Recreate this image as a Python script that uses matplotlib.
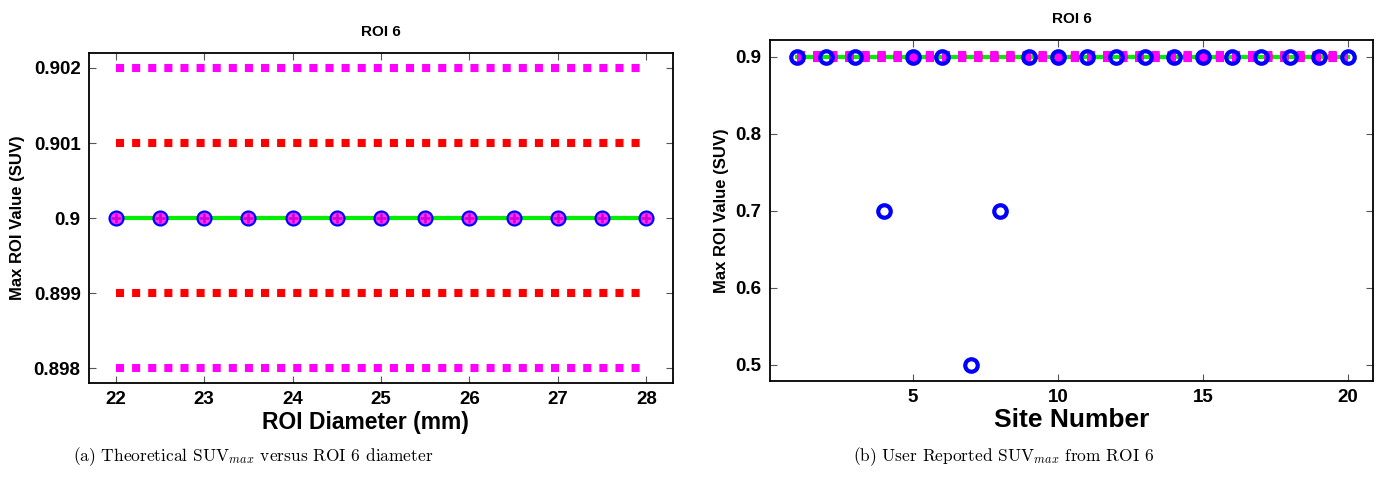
import matplotlib
matplotlib.use("Agg")
import matplotlib.pyplot as plt
import numpy as np

# panel (a): theoretical value vs ROI diameter
diam = [22, 22.5, 23, 23.5, 24, 24.5, 25, 25.5, 26, 26.5, 27, 27.5, 28]
theo = [0.9] * 13
true_val = 0.9
tol_inner = 0.001
tol_outer = 0.002

# panel (b): user reported values per site
sites = list(range(1, 21))
reported = [0.9, 0.9, 0.9, 0.7, 0.9, 0.9, 0.5, 0.7, 0.9, 0.9,
            0.9, 0.9, 0.9, 0.9, 0.9, 0.9, 0.9, 0.9, 0.9, 0.9]

left_yticks = [0.898, 0.899, 0.9, 0.901, 0.902]
left_yticklabels = ['0.898', '0.899', '0.9', '0.901', '0.902']
left_xticks = [22, 23, 24, 25, 26, 27, 28]
right_xticks = [5, 10, 15, 20]
right_yticks = [0.5, 0.6, 0.7, 0.8, 0.9]

plt.rcParams['font.family'] = ['Liberation Sans', 'DejaVu Sans']
plt.rcParams['font.weight'] = 'bold'
plt.rcParams['mathtext.fontset'] = 'cm'

W, H = 1383, 478
fig = plt.figure(figsize=(W / 100, H / 100), dpi=100)

def style_axes(ax):
    for s in ax.spines.values():
        s.set_linewidth(1.3)
    ax.tick_params(direction='in', length=5, width=0.8, color='#555555',
                   top=True, right=True, labelsize=13.5, pad=6)
    for lab in ax.get_xticklabels() + ax.get_yticklabels():
        lab.set_fontweight('bold')

dot = (0, (1, 1))
lw_dot = 5.8

# ---- left panel
ax1 = fig.add_axes([89 / W, 1 - 383 / H, (673 - 89) / W, (383 - 53) / H])
xl = [diam[0], diam[-1]]
ax1.plot(xl, [true_val + tol_outer] * 2, color='magenta', lw=lw_dot, ls=dot)
ax1.plot(xl, [true_val - tol_outer] * 2, color='magenta', lw=lw_dot, ls=dot)
ax1.plot(xl, [true_val + tol_inner] * 2, color='red', lw=lw_dot, ls=dot)
ax1.plot(xl, [true_val - tol_inner] * 2, color='red', lw=lw_dot, ls=dot)
ax1.plot(diam, theo, color='#00ee00', lw=3, marker='o', ms=10,
         mfc='#ff33ff', mec='blue', mew=1.6)
ax1.plot(diam, theo, ls='none', marker='+', ms=7, mec='#d000d0', mew=1.8)
ax1.set_xlim(21.7, 28.3)
ax1.set_ylim(0.8978, 0.9022)
ax1.set_xticks(left_xticks)
ax1.set_yticks(left_yticks)
ax1.set_yticklabels(left_yticklabels)
ax1.set_title('ROI 6', fontsize=11, fontweight='bold', pad=12)
ax1.set_xlabel('ROI Diameter (mm)', fontsize=16.5, fontweight='bold', labelpad=2)
ax1.xaxis.set_label_coords(0.474, -0.085)
ax1.set_ylabel('Max ROI Value (SUV)', fontsize=12, fontweight='bold', labelpad=6)
style_axes(ax1)

# ---- right panel
ax2 = fig.add_axes([770 / W, 1 - 381 / H, (1373 - 770) / W, (381 - 40) / H])
xr = [sites[0], sites[-1]]
ax2.plot(xr, [true_val] * 2, color='#00ee00', lw=3)
ax2.plot(xr, [true_val + tol_inner] * 2, color='red', lw=lw_dot, ls=dot)
ax2.plot(xr, [true_val - tol_inner] * 2, color='red', lw=lw_dot, ls=dot)
ax2.plot(xr, [true_val + tol_outer] * 2, color='magenta', lw=lw_dot, ls=dot)
ax2.plot(xr, [true_val - tol_outer] * 2, color='magenta', lw=lw_dot, ls=dot)
ax2.plot(sites, reported, ls='none', marker='o', ms=9, mfc='none',
         mec='blue', mew=3)
ax2.set_xlim(0.07, 20.86)
ax2.set_ylim(0.479, 0.922)
ax2.set_xticks(right_xticks)
ax2.set_yticks(right_yticks)
ax2.set_title('ROI 6', fontsize=11, fontweight='bold', pad=12)
ax2.set_xlabel('Site Number', fontsize=19, fontweight='bold', labelpad=2)
ax2.xaxis.set_label_coords(0.5, -0.08)
ax2.set_ylabel('Max ROI Value (SUV)', fontsize=12, fontweight='bold', labelpad=5)
style_axes(ax2)

# captions
fig.text(253 / W, 1 - 457 / H, r'(a) Theoretical SUV$_{max}$ versus ROI 6 diameter',
         ha='center', va='center', fontsize=12.5, family='cmr10',
         fontweight='normal', math_fontfamily='cm')
fig.text(1004 / W, 1 - 457 / H, r'(b) User Reported SUV$_{max}$ from ROI 6',
         ha='center', va='center', fontsize=12.5, family='cmr10',
         fontweight='normal', math_fontfamily='cm')

fig.savefig('out.png', dpi=100)
